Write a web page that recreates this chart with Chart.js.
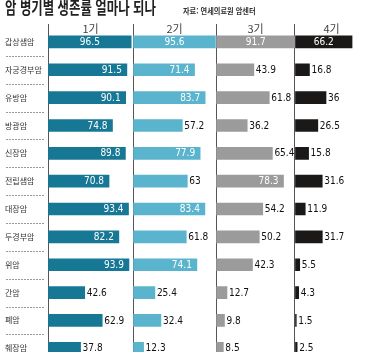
<!DOCTYPE html>
<html lang="ko">
<head>
<meta charset="utf-8">
<script src="https://cdn.jsdelivr.net/npm/chart.js@4.4.0/dist/chart.umd.min.js"></script>
<style>
  html, body { margin: 0; padding: 0; background: #fff; overflow: hidden; }
  #wrap { position: relative; width: 368px; height: 352px; overflow: hidden; }
  canvas { position: absolute; left: 0; top: 0; }
  #title { position: absolute; left: 5px; top: -2px; font: 700 17px/17px "Noto Sans CJK KR", sans-serif; color: #222; white-space: nowrap; transform: scaleX(0.73); transform-origin: left top; }
  #source { position: absolute; left: 183px; top: 7px; font: 700 8px/8px "Noto Sans CJK KR", sans-serif; color: #333; white-space: nowrap; transform: scaleX(0.9); transform-origin: left top; }
</style>
</head>
<body>
<div id="wrap">
  <canvas id="chart1" width="368" height="367"></canvas>
  <div id="title">암 병기별 생존률 얼마나 되나</div>
  <div id="source">자료: 연세의료원 암센터</div>
</div>
<script>
var cancers = ['갑상샘암', '자궁경부암', '유방암', '방광암', '신장암', '전립샘암', '대장암', '두경부암', '위암', '간암', '폐암', '췌장암'];
var stageLabels = ['1기', '2기', '3기', '4기'];
var stage1 = [96.5, 91.5, 90.1, 74.8, 89.8, 70.8, 93.4, 82.2, 93.9, 42.6, 62.9, 37.8];
var stage2 = [95.6, 71.4, 83.7, 57.2, 77.9, 63, 83.4, 61.8, 74.1, 25.4, 32.4, 12.3];
var stage3 = [91.7, 43.9, 61.8, 36.2, 65.4, 78.3, 54.2, 50.2, 42.3, 12.7, 9.8, 8.5];
var stage4 = [66.2, 16.8, 36, 26.5, 15.8, 31.6, 11.9, 31.7, 5.5, 4.3, 1.5, 2.5];
// visible range of each panel (same px per % in all four)
var stageMax = [98.6, 96.3, 91.6, 84.7];
var stageColors = ['#177896', '#5bb4cd', '#9b9b9b', '#1b1918'];

var numFont = "10px 'Liberation Sans Narrow', 'DejaVu Sans Condensed', sans-serif";

var series = [stage1, stage2, stage3, stage4];
var datasets = series.map(function (vals, i) {
    return {
        label: stageLabels[i],
        data: vals,
        xAxisID: 'x' + (i + 1),
        backgroundColor: stageColors[i],
        barThickness: 12,
        grouped: false
    };
});

var scales = {
    y: {
        grid: { display: false },
        border: { display: false },
        ticks: {
            crossAlign: 'far',
            padding: 0,
            color: '#333',
            font: { family: "'Noto Sans CJK KR', sans-serif", size: 8 }
        },
        afterFit: function (s) { s.width = 43; }
    }
};
// top boxes are laid out in reverse order, so add the last stage first
for (var k = stageLabels.length - 1; k >= 0; k--) {
    (function (i) {
        scales['x' + (i + 1)] = {
            type: 'linear',
            position: 'top',
            stack: 'stage',
            stackWeight: stageMax[i],
            min: 0,
            max: stageMax[i],
            afterBuildTicks: function (s) { s.ticks = [{ value: 0 }]; },
            grid: { color: '#555', lineWidth: 1, drawTicks: true, tickLength: 4 },
            border: { display: false },
            ticks: { display: false }
        };
    })(k);
}

// headers, dashed row separators and value labels
var stageDecor = {
    id: 'stageDecor',
    afterDraw: function (chart) {
        var ctx = chart.ctx;
        var area = chart.chartArea;
        var y = chart.scales.y;
        ctx.save();

        ctx.strokeStyle = '#9a9a9a';
        ctx.lineWidth = 1;
        ctx.setLineDash([2, 1]);
        for (var r = 0; r < cancers.length - 1; r++) {
            var yy = Math.round((y.getPixelForValue(r) + y.getPixelForValue(r + 1)) / 2) + 0.5;
            ctx.beginPath();
            ctx.moveTo(6, yy);
            ctx.lineTo(area.left - 3, yy);
            ctx.stroke();
        }
        ctx.setLineDash([]);

        ctx.fillStyle = '#444';
        ctx.font = "11px 'Noto Sans CJK KR', sans-serif";
        ctx.textAlign = 'center';
        ctx.textBaseline = 'middle';
        stageLabels.forEach(function (lab, i) {
            var s = chart.scales['x' + (i + 1)];
            ctx.fillText(lab, (s.left + s.right) / 2, area.top + 1);
        });

        ctx.font = numFont;
        chart.data.datasets.forEach(function (ds, di) {
            chart.getDatasetMeta(di).data.forEach(function (bar, j) {
                var v = ds.data[j];
                var txt = String(v);
                if (v >= 66) {
                    ctx.fillStyle = '#fff';
                    if (j === 0) {
                        ctx.textAlign = 'center';
                        ctx.fillText(txt, (bar.base + bar.x) / 2, bar.y + 0.5);
                    } else {
                        ctx.textAlign = 'right';
                        ctx.fillText(txt, bar.x - 5, bar.y + 0.5);
                    }
                } else {
                    ctx.fillStyle = '#111';
                    ctx.textAlign = 'left';
                    ctx.fillText(txt, bar.x + 2, bar.y + 0.5);
                }
            });
        });
        ctx.restore();
    }
};

var ctxChart1 = document.getElementById('chart1').getContext('2d');
var chart1 = new Chart(ctxChart1, {
    type: 'bar',
    plugins: [stageDecor],
    data: {
        labels: cancers,
        datasets: datasets
    },
    options: {
        indexAxis: 'y',
        responsive: false,
        animation: false,
        layout: { padding: { left: 5, top: 24, right: 0, bottom: 0 } },
        plugins: {
            legend: { display: false },
            title: { display: false },
            tooltip: { enabled: false }
        },
        scales: scales
    }
});
</script>
</body>
</html>
